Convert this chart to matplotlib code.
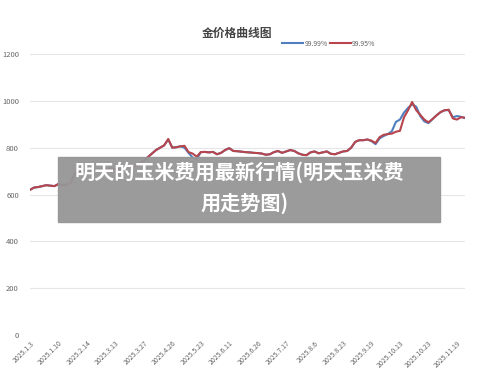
import matplotlib.pyplot as plt
from matplotlib.patches import Rectangle

plt.rcParams['font.family'] = ['Noto Sans CJK SC', 'DejaVu Sans']

# tick labels (every 7th point)
date_labels = ["2025.1.3", "2025.1.10", "2025.2.14", "2025.3.13", "2025.3.27",
               "2025.4.26", "2025.5.23", "2025.6.11", "2025.6.26", "2025.7.17",
               "2025.8.6", "2025.8.23", "2025.9.19", "2025.10.13", "2025.10.23",
               "2025.11.19"]

# 99.95%
red_vals = [620, 630, 632, 636, 640, 638, 636, 645, 640, 642,
            650, 690, 700, 702, 705, 703, 706, 708, 706, 710,
            712, 708, 710, 715, 718, 716, 722, 730, 745, 760,
            775, 790, 800, 810, 837, 800, 802, 806, 808, 781,
            775, 762, 781, 782, 780, 782, 772, 778, 790, 798,
            786, 785, 783, 781, 780, 778, 777, 775, 770, 772,
            781, 786, 778, 784, 790, 786, 776, 770, 768, 780,
            784, 776, 780, 784, 774, 772, 778, 784, 786, 800,
            825, 832, 832, 835, 830, 820, 845, 855, 858, 860,
            868, 872, 930, 960, 995, 960, 940, 920, 908, 922,
            938, 952, 960, 962, 925, 920, 930, 928]

# 99.99%
blue_vals = [620, 630, 632, 636, 640, 638, 636, 645, 640, 642,
             650, 690, 700, 702, 705, 703, 706, 708, 706, 710,
             712, 708, 710, 715, 718, 716, 722, 730, 745, 760,
             775, 790, 800, 810, 835, 800, 802, 806, 800, 778,
             758, 750, 781, 782, 780, 782, 772, 778, 790, 798,
             786, 785, 783, 781, 780, 778, 777, 775, 770, 772,
             781, 786, 778, 784, 790, 786, 776, 770, 768, 780,
             784, 776, 780, 784, 774, 772, 778, 784, 786, 800,
             825, 832, 832, 835, 828, 815, 840, 850, 858, 870,
             910, 920, 950, 970, 985, 975, 935, 912, 905, 922,
             938, 952, 960, 960, 930, 935, 932, 926]

x = list(range(len(red_vals)))

fig = plt.figure(figsize=(5, 3.8), dpi=100)
ax = fig.add_axes([0.06, 0.118, 0.87, 0.74])

ax.plot(x, blue_vals, color='#4f7fbf', lw=1.5, label='99.99%')
ax.plot(x, red_vals, color='#b8444c', lw=1.5, label='99.95%')

ax.set_ylim(0, 1200)
ax.set_yticks(range(0, 1201, 200))
ax.set_xlim(0, len(red_vals) - 1)
ax.set_xticks(x[::7])
ax.set_xticklabels(date_labels, rotation=45, ha='right', rotation_mode='anchor')
ax.tick_params(axis='x', labelsize=5, colors='#666666', length=0, pad=3)
ax.tick_params(axis='y', labelsize=5.5, colors='#666666', length=0, pad=8)
ax.grid(axis='y', color='#e6e6e6', lw=0.8)
ax.set_axisbelow(True)
for s in ax.spines.values():
    s.set_visible(False)

fig.text(0.475, 0.913, '金价格曲线图', ha='center', va='center',
         fontsize=8.5, fontweight='bold', color='#444444')
leg = ax.legend(loc='center', bbox_to_anchor=(0.687, 1.036), ncol=2,
                frameon=False, fontsize=5, handlelength=3.0, columnspacing=0.3,
                handletextpad=0.2)
for t in leg.get_texts():
    t.set_color('#666666')

# grey caption overlay
fig.patches.append(Rectangle((58 / 500, 1 - 222 / 380), 382 / 500, 65 / 380,
                             transform=fig.transFigure, color='#969696',
                             alpha=0.95, zorder=5))
fig.text(0.478, 1 - 172 / 380, '明天的玉米费用最新行情(明天玉米费', ha='center',
         va='center', fontsize=14.5, fontweight='bold', color='white', zorder=6)
fig.text(0.49, 1 - 203 / 380, '用走势图)', ha='center', va='center',
         fontsize=14.5, fontweight='bold', color='white', zorder=6)

fig.savefig('out.png', dpi=100)
